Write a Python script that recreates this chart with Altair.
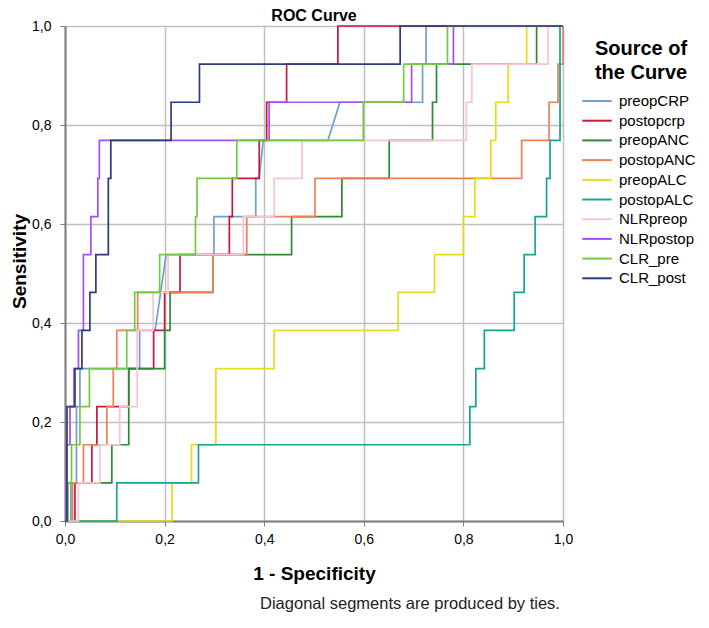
import altair as alt
import pandas as pd

# ---- data (step vertices of each ROC curve) ----
names = ["preopCRP", "postopcrp", "preopANC", "postopANC", "preopALC",
         "postopALC", "NLRpreop", "NLRpostop", "CLR_pre", "CLR_post"]
colors = ["#6f9fd8", "#c8163f", "#2f8a34", "#ef7f55", "#e4dd1c",
          "#17a58e", "#f8c4d4", "#a64dff", "#74c943", "#2b3b82"]

preopCRP_x = [0, 0.012, 0.012, 0.023, 0.023, 0.03, 0.03, 0.15, 0.15, 0.181, 0.203, 0.299, 0.299,
              0.383, 0.383, 0.39, 0.398, 0.528, 0.552, 0.718, 0.718, 0.725, 0.725, 1]
preopCRP_y = [0, 0, .077, .077, .231, .231, .308, .308, .385, .385, .538, .538, .615,
              .615, .692, .692, .769, .769, .846, .846, .923, .923, 1, 1]

postopcrp_x = [0, 0.02, 0.02, 0.054, 0.054, 0.064, 0.064, 0.128, 0.128, 0.178, 0.178, 0.2, 0.2,
               0.231, 0.231, 0.33, 0.33, 0.336, 0.336, 0.39, 0.39, 0.405, 0.405, 0.445, 0.445,
               0.548, 0.548, 1]
postopcrp_y = [0, 0, .077, .077, .154, .154, .231, .231, .308, .308, .385, .385, .462,
               .462, .538, .538, .615, .615, .692, .692, .769, .769, .846, .846, .923,
               .923, 1, 1]

preopANC_x = [0, 0.004, 0.004, 0.094, 0.094, 0.128, 0.128, 0.2, 0.2, 0.211, 0.211, 0.297, 0.297,
              0.455, 0.455, 0.556, 0.556, 0.651, 0.651, 0.738, 0.738, 0.746, 0.746, 0.947, 0.947, 1]
preopANC_y = [0, 0, .077, .077, .154, .154, .308, .308, .385, .385, .462, .462, .538,
              .538, .615, .615, .692, .692, .769, .769, .846, .846, .923, .923, 1, 1]

postopANC_x = [0, 0.015, 0.015, 0.037, 0.037, 0.084, 0.084, 0.097, 0.097, 0.104, 0.104, 0.146,
               0.146, 0.297, 0.297, 0.365, 0.365, 0.502, 0.502, 0.917, 0.917, 0.972, 0.972,
               0.99, 0.99, 1, 1]
postopANC_y = [0, 0, .077, .077, .154, .154, .231, .231, .308, .308, .385, .385,
               .462, .462, .538, .538, .615, .615, .692, .692, .769, .769, .846,
               .846, .923, .923, 1]

preopALC_x = [0, 0.215, 0.215, 0.254, 0.254, 0.303, 0.303, 0.42, 0.42, 0.669, 0.669, 0.742, 0.742,
              0.8, 0.8, 0.823, 0.823, 0.855, 0.855, 0.865, 0.865, 0.89, 0.89, 0.927, 0.927, 1]
preopALC_y = [0, 0, .077, .077, .154, .154, .308, .308, .385, .385, .462, .462, .538,
              .538, .615, .615, .692, .692, .769, .769, .846, .846, .923, .923, 1, 1]

postopALC_x = [0, 0.104, 0.104, 0.268, 0.268, 0.813, 0.813, 0.825, 0.825, 0.842, 0.842, 0.902,
               0.902, 0.922, 0.922, 0.944, 0.944, 0.967, 0.967, 0.974, 0.974, 0.994, 0.994, 1]
postopALC_y = [0, 0, .077, .077, .154, .154, .231, .231, .308, .308, .385, .385,
               .462, .462, .538, .538, .615, .615, .692, .692, .769, .769, 1, 1]

NLRpreop_x = [0, 0.027, 0.027, 0.07, 0.07, 0.11, 0.11, 0.145, 0.145, 0.177, 0.177, 0.207, 0.207,
              0.358, 0.358, 0.42, 0.42, 0.476, 0.476, 0.806, 0.806, 0.817, 0.817, 0.97, 0.97, 1]
NLRpreop_y = [0, 0, .077, .077, .154, .154, .231, .231, .385, .385, .462, .462, .538,
              .538, .615, .615, .692, .692, .769, .769, .846, .846, .923, .923, 1, 1]

NLRpostop_x = [0, 0.003, 0.003, 0.01, 0.01, 0.018, 0.018, 0.027, 0.027, 0.037, 0.037, 0.052, 0.052,
               0.066, 0.066, 0.069, 0.069, 0.41, 0.41, 0.696, 0.696, 0.78, 0.78, 1]
NLRpostop_y = [0, 0, .154, .154, .231, .231, .308, .308, .385, .385, .538, .538, .615,
               .615, .692, .692, .769, .769, .846, .846, .923, .923, 1, 1]

CLR_pre_x = [0, 0.006, 0.006, 0.013, 0.013, 0.03, 0.03, 0.049, 0.049, 0.124, 0.124, 0.14, 0.14,
             0.19, 0.19, 0.262, 0.262, 0.265, 0.265, 0.345, 0.345, 0.599, 0.599, 0.68, 0.68,
             0.768, 0.768, 1]
CLR_pre_y = [0, 0, .077, .077, .154, .154, .231, .231, .308, .308, .385, .385, .462,
             .462, .538, .538, .615, .615, .692, .692, .769, .769, .846, .846, .923,
             .923, 1, 1]

CLR_post_x = [0, 0.004, 0.004, 0.02, 0.02, 0.034, 0.034, 0.05, 0.05, 0.062, 0.062, 0.087, 0.087,
              0.092, 0.092, 0.213, 0.213, 0.27, 0.27, 0.673, 0.673, 1]
CLR_post_y = [0, 0, .231, .231, .308, .308, .385, .385, .462, .462, .538, .538, .692,
              .692, .769, .769, .846, .846, .923, .923, 1, 1]

tick_values = [0, 0.2, 0.4, 0.6, 0.8, 1.0]
title_text = "ROC Curve"
x_title = "1 - Specificity"
y_title = "Sensitivity"
legend_title = ["Source of", "the Curve"]
note_text = "Diagonal segments are produced by ties."

curves = {
    "preopCRP": (preopCRP_x, preopCRP_y),
    "postopcrp": (postopcrp_x, postopcrp_y),
    "preopANC": (preopANC_x, preopANC_y),
    "postopANC": (postopANC_x, postopANC_y),
    "preopALC": (preopALC_x, preopALC_y),
    "postopALC": (postopALC_x, postopALC_y),
    "NLRpreop": (NLRpreop_x, NLRpreop_y),
    "NLRpostop": (NLRpostop_x, NLRpostop_y),
    "CLR_pre": (CLR_pre_x, CLR_pre_y),
    "CLR_post": (CLR_post_x, CLR_post_y),
}

rows = []
for name in names:
    xs, ys = curves[name]
    for i, (a, b) in enumerate(zip(xs, ys)):
        rows.append({"curve": name, "idx": i, "fpr": a, "tpr": b})
df = pd.DataFrame(rows)

FONT = "Liberation Sans"
comma_expr = "replace(format(datum.value, '.1f'), '.', ',')"

lines = alt.Chart(df).mark_line(strokeWidth=1.7, interpolate="linear").encode(
    x=alt.X("fpr:Q", scale=alt.Scale(domain=[0, 1], nice=False, zero=False),
            axis=alt.Axis(values=tick_values, labelExpr=comma_expr, title=x_title,
                          titleFontSize=19, titleFontWeight="bold", titleY=52,
                          titleBaseline="middle", labelFontSize=14, labelPadding=6,
                          tickSize=5, labelFlush=False)),
    y=alt.Y("tpr:Q", scale=alt.Scale(domain=[0, 1], nice=False, zero=False),
            axis=alt.Axis(values=tick_values, labelExpr=comma_expr, title=y_title,
                          titleFontSize=19, titleFontWeight="bold",
                          titleX=-46, titleY=235, titleAngle=-90, titleAlign="center",
                          titleBaseline="middle", labelFontSize=14, labelPadding=9,
                          tickSize=5, labelFlush=False)),
    color=alt.Color("curve:N", scale=alt.Scale(domain=names, range=colors),
                    legend=alt.Legend(title=legend_title, orient="none", legendX=521,
                                      legendY=13, titleFontSize=20, titleFontWeight="bold",
                                      titleLineHeight=24, titleAnchor="middle",
                                      titlePadding=7, labelFontSize=15, labelOffset=11,
                                      symbolType="M-1.5,0L1.5,0", symbolSize=384,
                                      symbolStrokeWidth=2, rowPadding=0.7, padding=0,
                                      labelColor="#000000", titleColor="#000000")),
    order="idx:Q",
)

title_layer = alt.Chart(pd.DataFrame({"t": [title_text]})).mark_text(
    fontSize=16, font=FONT, fontWeight="bold", color="#000000", align="center",
    baseline="middle"
).encode(text="t:N", x=alt.value(249), y=alt.value(-10))

note = alt.Chart(pd.DataFrame({"t": [note_text]})).mark_text(
    fontSize=16.5, font=FONT, color="#222222", align="center", baseline="middle"
).encode(text="t:N", x=alt.value(345), y=alt.value(578))

chart = alt.layer(lines, title_layer, note).properties(
    width=498, height=495,
    autosize=alt.AutoSizeParams(type="none"),
    padding={"left": 57, "top": 18, "right": 138, "bottom": 99},
).configure_axis(
    labelFont=FONT, titleFont=FONT, labelColor="#000000", titleColor="#000000",
    gridColor="#c0c0c0", gridWidth=1.5, domainColor="#7f7f7f", domainWidth=2,
    tickColor="#7f7f7f",
).configure_legend(
    labelFont=FONT, titleFont=FONT,
).configure_view(strokeWidth=0)

chart.save("out.html", embed_options={"renderer": "svg", "actions": False})
